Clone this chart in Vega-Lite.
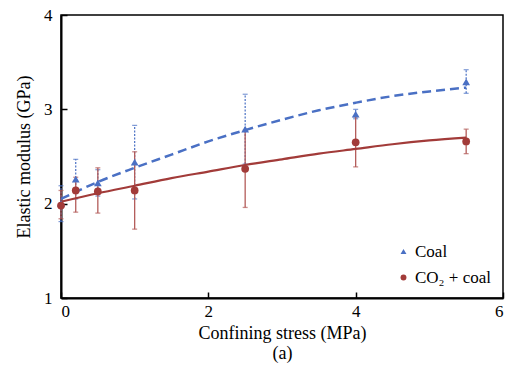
{
  "$schema": "https://vega.github.io/schema/vega-lite/v6.json",
  "autosize": {"type": "none"},
  "padding": {"left": 61, "top": 15, "right": 7, "bottom": 71},
  "width": 442,
  "height": 283,
  "background": "white",
  "config": {
    "view": {"stroke": "black", "strokeWidth": 1.5},
    "font": "Liberation Serif",
    "axis": {
      "grid": false,
      "domainColor": "black",
      "domainWidth": 2,
      "tickColor": "black",
      "tickWidth": 1.5,
      "tickSize": -6,
      "labelFont": "Liberation Serif",
      "labelFontSize": 17,
      "labelColor": "black",
      "titleFont": "Liberation Serif",
      "titleFontSize": 18,
      "titleFontWeight": "normal",
      "titleColor": "black"
    },
    "legend": {
      "labelFont": "Liberation Serif",
      "labelFontSize": 17,
      "labelColor": "black"
    }
  },
  "datasets": {
    "pts": [
      {"series": "Coal", "x": 0, "y": 2.0, "lo": 1.81, "hi": 2.19},
      {"series": "Coal", "x": 0.2, "y": 2.26, "lo": 2.05, "hi": 2.47},
      {"series": "Coal", "x": 0.5, "y": 2.22, "lo": 2.08, "hi": 2.36},
      {"series": "Coal", "x": 1.0, "y": 2.44, "lo": 2.05, "hi": 2.83},
      {"series": "Coal", "x": 2.5, "y": 2.79, "lo": 2.42, "hi": 3.16},
      {"series": "Coal", "x": 4.0, "y": 2.95, "lo": 2.9, "hi": 3.0},
      {"series": "Coal", "x": 5.5, "y": 3.29, "lo": 3.17, "hi": 3.42},
      {"series": "CO₂ + coal", "x": 0, "y": 1.98, "lo": 1.84, "hi": 2.14},
      {"series": "CO₂ + coal", "x": 0.2, "y": 2.14, "lo": 1.91, "hi": 2.28},
      {"series": "CO₂ + coal", "x": 0.5, "y": 2.13, "lo": 1.9, "hi": 2.38},
      {"series": "CO₂ + coal", "x": 1.0, "y": 2.14, "lo": 1.73, "hi": 2.55},
      {"series": "CO₂ + coal", "x": 2.5, "y": 2.37, "lo": 1.96, "hi": 2.78},
      {"series": "CO₂ + coal", "x": 4.0, "y": 2.65, "lo": 2.39, "hi": 2.92},
      {"series": "CO₂ + coal", "x": 5.5, "y": 2.66, "lo": 2.53, "hi": 2.79}
    ],
    "fit": [
      {"series": "Coal", "x": 0, "y": 2.05},
      {"series": "Coal", "x": 0.5, "y": 2.23},
      {"series": "Coal", "x": 1.0, "y": 2.38},
      {"series": "Coal", "x": 1.5, "y": 2.52},
      {"series": "Coal", "x": 2.0, "y": 2.66},
      {"series": "Coal", "x": 2.5, "y": 2.78},
      {"series": "Coal", "x": 3.0, "y": 2.89},
      {"series": "Coal", "x": 3.5, "y": 2.99},
      {"series": "Coal", "x": 4.0, "y": 3.07},
      {"series": "Coal", "x": 4.5, "y": 3.14},
      {"series": "Coal", "x": 5.0, "y": 3.19},
      {"series": "Coal", "x": 5.5, "y": 3.23},
      {"series": "CO₂ + coal", "x": 0, "y": 2.02},
      {"series": "CO₂ + coal", "x": 0.5, "y": 2.11},
      {"series": "CO₂ + coal", "x": 1.0, "y": 2.19},
      {"series": "CO₂ + coal", "x": 1.5, "y": 2.27},
      {"series": "CO₂ + coal", "x": 2.0, "y": 2.34},
      {"series": "CO₂ + coal", "x": 2.5, "y": 2.41},
      {"series": "CO₂ + coal", "x": 3.0, "y": 2.47},
      {"series": "CO₂ + coal", "x": 3.5, "y": 2.53},
      {"series": "CO₂ + coal", "x": 4.0, "y": 2.58},
      {"series": "CO₂ + coal", "x": 4.5, "y": 2.63},
      {"series": "CO₂ + coal", "x": 5.0, "y": 2.67},
      {"series": "CO₂ + coal", "x": 5.5, "y": 2.70}
    ]
  },
  "encoding": {
    "x": {
      "field": "x", "type": "quantitative",
      "scale": {"domain": [0, 6], "nice": false, "zero": false},
      "axis": {"values": [0, 2, 4, 6], "title": ["Confining stress (MPa)", "(a)"], "titlePadding": 5, "labelPadding": 11, "titleLineHeight": 20}
    },
    "y": {
      "field": "y", "type": "quantitative",
      "scale": {"domain": [1, 4], "nice": false, "zero": false},
      "axis": {"values": [1, 2, 3, 4], "title": "Elastic modulus (GPa)", "titlePadding": 10, "labelPadding": 15}
    }
  },
  "layer": [
    {
      "data": {"name": "pts"},
      "transform": [{"filter": "datum.series == 'Coal'"}],
      "layer": [
        {"mark": {"type": "rule", "color": "#4a70c4", "strokeWidth": 1.2, "strokeDash": [2, 1.5]},
         "encoding": {"y": {"field": "lo", "type": "quantitative"}, "y2": {"field": "hi"}}},
        {"mark": {"type": "tick", "color": "#4a70c4", "orient": "horizontal", "size": 5, "thickness": 1.2},
         "encoding": {"y": {"field": "lo", "type": "quantitative"}}},
        {"mark": {"type": "tick", "color": "#4a70c4", "orient": "horizontal", "size": 5, "thickness": 1.2},
         "encoding": {"y": {"field": "hi", "type": "quantitative"}}}
      ]
    },
    {
      "data": {"name": "pts"},
      "transform": [{"filter": "datum.series != 'Coal'"}],
      "layer": [
        {"mark": {"type": "rule", "color": "#b35c5a", "strokeWidth": 1.3},
         "encoding": {"y": {"field": "lo", "type": "quantitative"}, "y2": {"field": "hi"}}},
        {"mark": {"type": "tick", "color": "#b35c5a", "orient": "horizontal", "size": 5, "thickness": 1.3},
         "encoding": {"y": {"field": "lo", "type": "quantitative"}}},
        {"mark": {"type": "tick", "color": "#b35c5a", "orient": "horizontal", "size": 5, "thickness": 1.3},
         "encoding": {"y": {"field": "hi", "type": "quantitative"}}}
      ]
    },
    {
      "data": {"name": "fit"},
      "transform": [{"filter": "datum.series == 'Coal'"}],
      "mark": {"type": "line", "color": "#4a70c4", "strokeWidth": 2.5, "strokeDash": [9, 5], "interpolate": "monotone"},
      "encoding": {}
    },
    {
      "data": {"name": "fit"},
      "transform": [{"filter": "datum.series != 'Coal'"}],
      "mark": {"type": "line", "color": "#a23b39", "strokeWidth": 2.2, "interpolate": "monotone"},
      "encoding": {}
    },
    {
      "data": {"name": "pts"},
      "mark": {"type": "point", "filled": true, "opacity": 1},
      "encoding": {
        "color": {
          "field": "series", "type": "nominal",
          "scale": {"domain": ["Coal", "CO₂ + coal"], "range": ["#4a70c4", "#a23b39"]},
          "legend": {"title": null, "orient": "none", "legendX": 334, "legendY": 228, "symbolSize": 35, "rowPadding": 8, "labelOffset": 3}
        },
        "shape": {
          "field": "series", "type": "nominal",
          "scale": {"domain": ["Coal", "CO₂ + coal"], "range": ["triangle-up", "circle"]}
        },
        "size": {"value": 60}
      }
    }
  ]
}
